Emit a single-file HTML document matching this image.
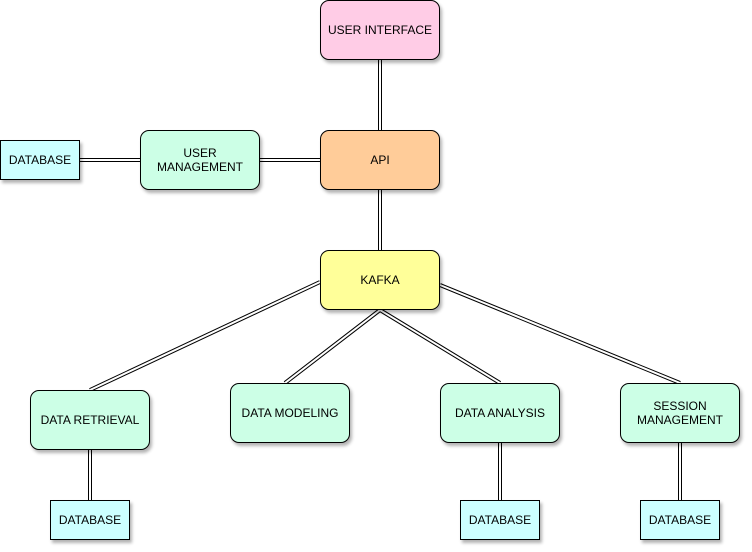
<!DOCTYPE html>
<html><head><style>
body{margin:0;width:752px;height:552px;background:#fff;position:relative;font-family:"Liberation Sans",Arial,sans-serif;overflow:hidden}
.b{position:absolute;box-sizing:border-box;border:1px solid #000;display:flex;align-items:center;justify-content:center;text-align:center;font-size:12px;line-height:14px;color:#000;box-shadow:2px 3px 3px rgba(0,0,0,.3)}
.r{border-radius:9px}
.g{background:#ccffe6}
.d{background:#ccffff}
svg{position:absolute;left:0;top:0}
</style></head><body>
<svg width="752" height="552">
<g fill="none" stroke-linecap="butt">
<g stroke="#000" stroke-width="4">
<path d="M380 60V130M380 190V250M80 160H140M260 160H320M320 282L90 390M380 310L285 383M380 310L500 383M440 285L680 383M90 450V500M500 443V500M680 443V500"/>
</g>
<g stroke="#fff" stroke-width="2">
<path d="M380 60V130M380 190V250M80 160H140M260 160H320M320 282L90 390M380 310L285 383M380 310L500 383M440 285L680 383M90 450V500M500 443V500M680 443V500"/>
</g>
</g>
</svg>
<div class="b r" style="left:320px;top:0;width:120px;height:60px;background:#ffcce6">USER INTERFACE</div>
<div class="b r" style="left:320px;top:130px;width:120px;height:60px;background:#ffcc99">API</div>
<div class="b r" style="left:320px;top:250px;width:120px;height:60px;background:#ffff99">KAFKA</div>
<div class="b r g" style="left:140px;top:130px;width:120px;height:60px">USER<br>MANAGEMENT</div>
<div class="b d" style="left:0;top:140px;width:80px;height:40px">DATABASE</div>
<div class="b r g" style="left:30px;top:390px;width:120px;height:60px">DATA RETRIEVAL</div>
<div class="b r g" style="left:230px;top:383px;width:120px;height:60px">DATA MODELING</div>
<div class="b r g" style="left:440px;top:383px;width:120px;height:60px">DATA ANALYSIS</div>
<div class="b r g" style="left:620px;top:383px;width:120px;height:60px">SESSION<br>MANAGEMENT</div>
<div class="b d" style="left:50px;top:500px;width:80px;height:40px">DATABASE</div>
<div class="b d" style="left:460px;top:500px;width:80px;height:40px">DATABASE</div>
<div class="b d" style="left:640px;top:500px;width:80px;height:40px">DATABASE</div>
</body></html>
